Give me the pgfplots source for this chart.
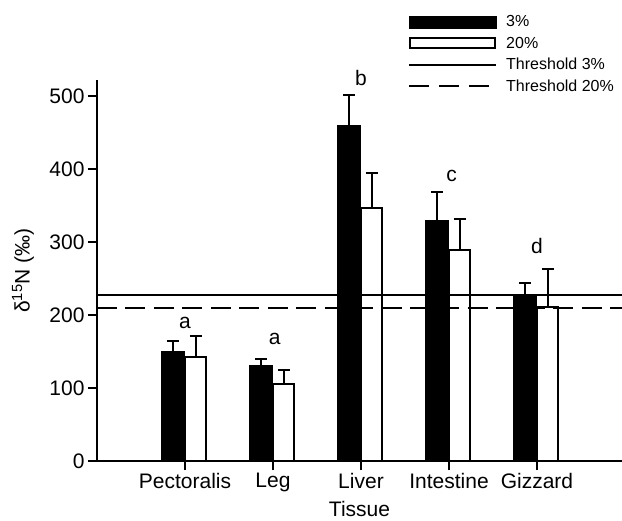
\documentclass[border=0pt]{standalone}
\usepackage{fontspec}
\setmainfont{Liberation Sans}
\usepackage{pgfplots}
\usepackage{pgfplotstable}
\pgfplotsset{compat=1.18}
\pgfplotstableread{
x b eb w ew
1 150 15 142 29
2 130 10 105 20
3 459 43 347 48
4 329 39 289 42
5 227 17 211 52
}\datatable
\newcommand{\bigf}{\fontsize{21}{25}\selectfont}
\begin{document}
\begin{tikzpicture}
\useasboundingbox (-97pt,-60pt) rectangle (525pt,461pt);
\begin{axis}[
  at={(0,0)}, anchor=south west,
  scale only axis, width=525pt, height=381pt,
  xmin=0, xmax=5.966, ymin=0, ymax=522,
  axis x line*=bottom, axis y line*=left,
  axis line style={line width=2pt, -},
  xtick={1,2,3,4,5},
  xticklabels={Pectoralis,Leg,Liver,Intestine,Gizzard},
  ytick={0,100,200,300,400,500},
  tick align=outside, major tick length=9pt,
  tick style={line width=2pt, black},
  /pgf/number format/assume math mode=true,
  ticklabel style={font=\bigf},
  label style={font=\bigf},
  xlabel={Tissue},
  ylabel={δ\textsuperscript{15}N (‰)},
  xlabel style={at={([yshift=-56pt]rel axis cs:0.5,0)}, anchor=base},
  ylabel style={at={([xshift=-74pt]rel axis cs:0,0.5)}, anchor=center},
  legend style={at={(0.5924,1.1745)}, anchor=north west, draw=none, fill=none,
    font=\fontsize{16}{19}\selectfont, inner sep=0pt, row sep=4.5pt, column sep=7pt,
    cells={anchor=west}},
  clip=false,
]
\addlegendimage{legend image code/.code={\fill[black] (0pt,-6pt) rectangle (87pt,6pt);}}
\addlegendentry{3\%}
\addlegendimage{legend image code/.code={\draw[black, line width=2pt, fill=white] (1pt,-5pt) rectangle (86pt,5pt);}}
\addlegendentry{20\%}
\addlegendimage{legend image code/.code={\draw[black, line width=2pt] (0pt,0pt) -- (87pt,0pt);}}
\addlegendentry{Threshold 3\%}
\addlegendimage{legend image code/.code={\draw[black, line width=2pt, dash pattern=on 20pt off 10pt] (0pt,0pt) -- (87pt,0pt);}}
\addlegendentry{Threshold 20\%}

\addplot[forget plot, ybar, bar width=22pt, bar shift=0pt, fill=black, draw=black, line width=2pt,
  error bars/.cd, y dir=plus, y explicit,
  error bar style={line width=2pt, black},
  error mark options={rotate=90, line width=2pt, mark size=6pt, black}]
  table[x expr=\thisrow{x}-0.1307, y=b, y error=eb] {\datatable};
\addplot[forget plot, ybar, bar width=21pt, bar shift=0pt, fill=white, draw=black, line width=2pt,
  error bars/.cd, y dir=plus, y explicit,
  error bar style={line width=2pt, black},
  error mark options={rotate=90, line width=2pt, mark size=6pt, black}]
  table[x expr=\thisrow{x}+0.1250, y=w, y error=ew] {\datatable};

\addplot[forget plot, black, line width=2pt] coordinates {(0,227) (5.966,227)};
\addplot[forget plot, black, line width=2pt, dash pattern=on 20pt off 8.5pt] coordinates {(0,210) (5.966,210)};

\node[anchor=base, font=\bigf] at (axis cs:1,182) {a};
\node[anchor=base, font=\bigf] at (axis cs:2.02,159) {a};
\node[anchor=base, font=\bigf] at (axis cs:3,514) {b};
\node[anchor=base, font=\bigf] at (axis cs:4.03,383) {c};
\node[anchor=base, font=\bigf] at (axis cs:5,284) {d};
\end{axis}
\end{tikzpicture}
\end{document}
